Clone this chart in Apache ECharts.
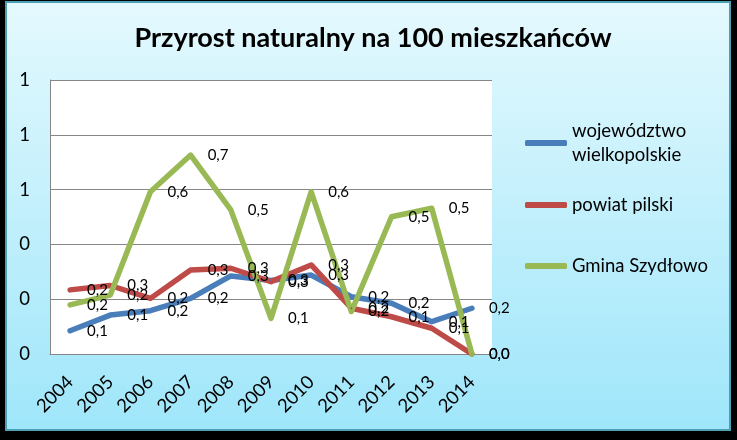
<!DOCTYPE html>
<html>
<head>
<meta charset="utf-8">
<title>Przyrost naturalny</title>
<script src="https://cdn.jsdelivr.net/npm/echarts@6/dist/echarts.min.js"></script>
<style>
    html, body { margin: 0; padding: 0; background: #000; }
    #chart { width: 737px; height: 440px; }
</style>
</head>
<body>
<div id="chart"></div>
<script>
// dane
var lata = ['2004', '2005', '2006', '2007', '2008', '2009', '2010', '2011', '2012', '2013', '2014'];
var wojewodztwo = [0.085, 0.142, 0.158, 0.203, 0.285, 0.268, 0.288, 0.209, 0.185, 0.118, 0.167];
var powiat = [0.234, 0.25, 0.203, 0.307, 0.313, 0.264, 0.325, 0.167, 0.136, 0.094, 0.0];
var gmina = [0.179, 0.215, 0.592, 0.726, 0.526, 0.13, 0.592, 0.155, 0.501, 0.532, 0.0];
var nazwy = ['województwo wielkopolskie', 'powiat pilski', 'Gmina Szydłowo'];
var kolory = ['#4a7ebb', '#be4b48', '#98b954'];

(function () {
    var myChart = echarts.init(document.getElementById('chart'));
    var font = 'Lato';

    function etykieta(p) {
        return p.value.toFixed(1).replace('.', ',');
    }

    function seria(i, dane) {
        return {
            name: nazwy[i],
            type: 'line',
            data: dane,
            symbol: 'circle',
            symbolSize: 2,
            showSymbol: true,
            animation: false,
            itemStyle: {color: kolory[i]},
            lineStyle: {color: kolory[i], width: 5.5, join: 'round', cap: 'round'},
            label: {
                show: true,
                position: 'right',
                distance: 16,
                color: '#000',
                fontFamily: font,
                fontSize: 15,
                formatter: etykieta
            },
            emphasis: {disabled: true}
        };
    }

    function legenda(i, top, opcje) {
        var l = {
            left: 520,
            top: top,
            orient: 'vertical',
            data: [nazwy[i]],
            icon: 'roundRect',
            itemWidth: 42,
            itemHeight: 6,
            selectedMode: false,
            textStyle: {color: '#000', fontFamily: font, fontSize: 18.5, lineHeight: 24}
        };
        if (opcje) {
            l.formatter = opcje.formatter;
            l.textStyle.padding = opcje.padding;
        }
        return l;
    }

    var option = {
        backgroundColor: '#000',
        graphic: [{
            type: 'rect',
            z: -10,
            shape: {x: 6, y: 2, width: 724, height: 428},
            style: {
                fill: new echarts.graphic.LinearGradient(0, 0, 0, 1, [
                    {offset: 0, color: '#e4f9fe'},
                    {offset: 1, color: '#9fe6fa'}
                ]),
                stroke: '#4d9fb3',
                lineWidth: 2
            }
        }],
        title: {
            text: 'Przyrost naturalny na 100 mieszkańców',
            left: 368,
            textAlign: 'center',
            top: 20,
            textStyle: {color: '#000', fontFamily: font, fontWeight: 'bold', fontSize: 27}
        },
        legend: [
            legenda(0, 102, {
                formatter: function () { return 'województwo\nwielkopolskie'; },
                padding: [24, 0, 0, 0]
            }),
            legenda(1, 188),
            legenda(2, 249)
        ],
        grid: {
            left: 50,
            right: 245,
            top: 80,
            bottom: 86,
            show: true,
            backgroundColor: '#fff',
            borderWidth: 0
        },
        xAxis: {
            type: 'category',
            data: lata,
            boundaryGap: true,
            axisLine: {lineStyle: {color: '#868686'}},
            axisTick: {show: false},
            axisLabel: {
                rotate: 45,
                margin: 25,
                color: '#000',
                fontFamily: font,
                fontSize: 18.5
            }
        },
        yAxis: {
            type: 'value',
            min: 0,
            max: 1,
            interval: 0.2,
            axisLine: {show: true, lineStyle: {color: '#868686'}},
            axisTick: {show: false},
            splitLine: {lineStyle: {color: '#868686'}},
            axisLabel: {
                margin: 20,
                color: '#000',
                fontFamily: font,
                fontSize: 18.5,
                formatter: function (v) { return String(Math.round(v)); }
            }
        },
        series: [
            seria(0, wojewodztwo),
            seria(1, powiat),
            seria(2, gmina)
        ]
    };

    myChart.setOption(option);
    window.addEventListener('resize', function () {
        myChart.resize();
    });
})();
</script>
</body>
</html>
